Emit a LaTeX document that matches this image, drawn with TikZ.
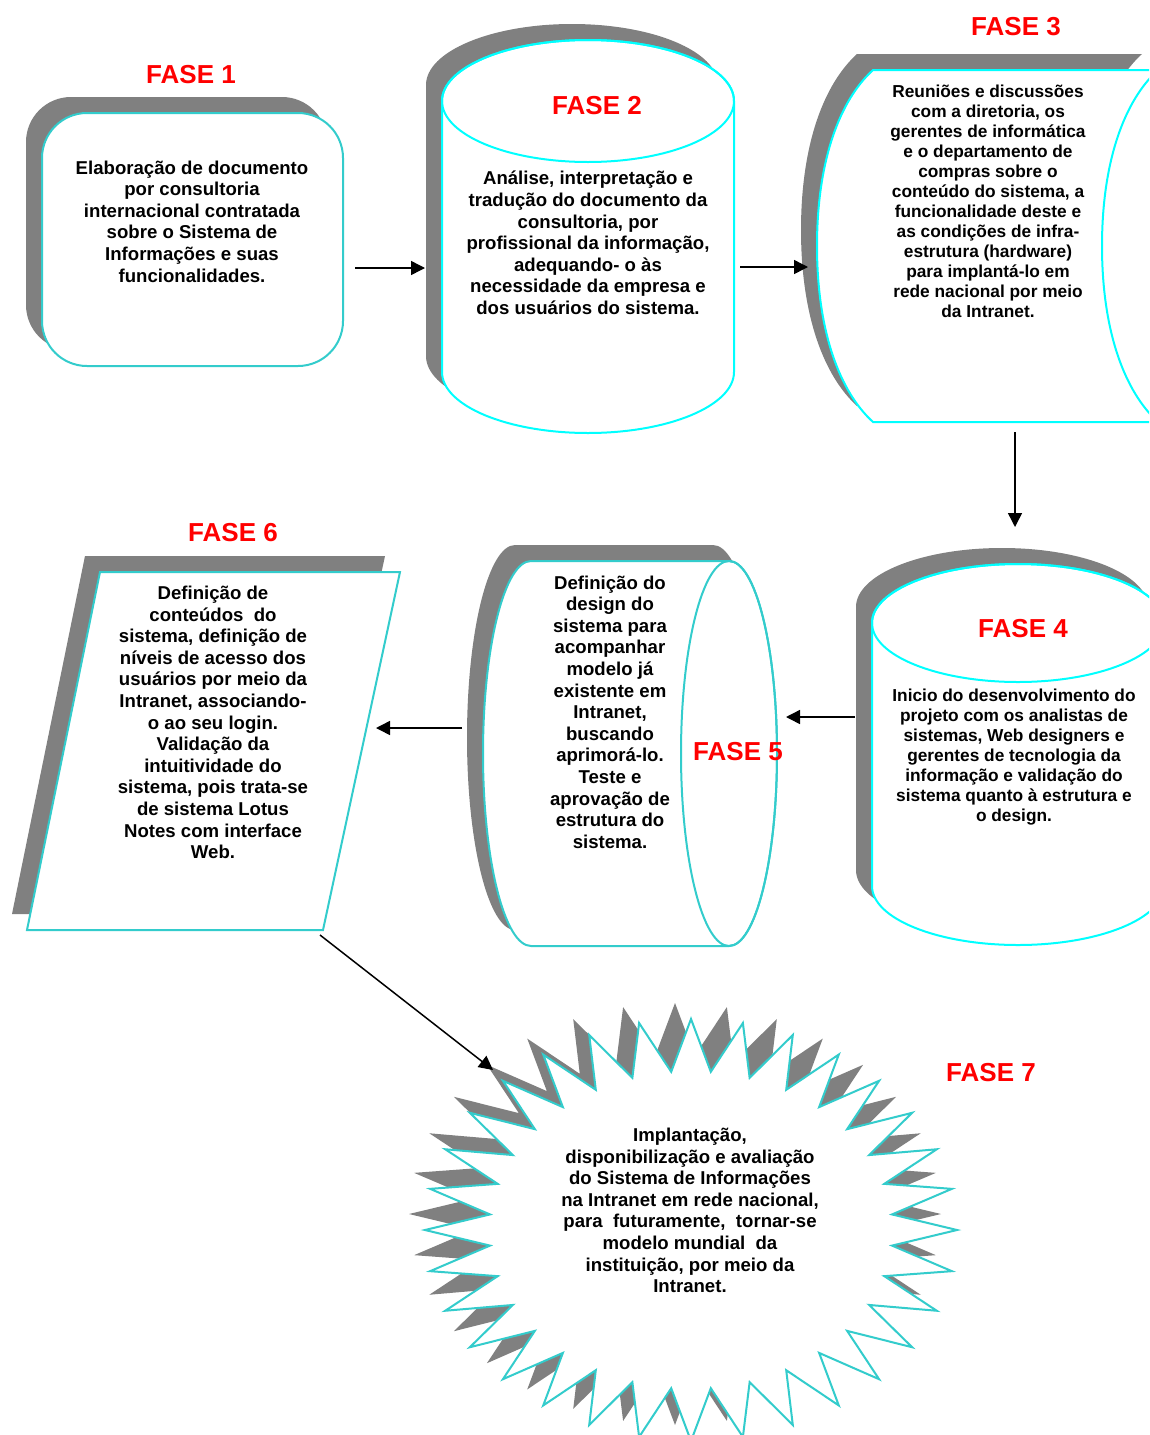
\documentclass[tikz,border=0pt]{standalone}
\usepackage{fontspec}
\setmainfont{Liberation Sans}
\usetikzlibrary{arrows.meta}
\definecolor{shadowgray}{HTML}{808080}
\definecolor{teal1}{HTML}{33CCCC}
\definecolor{cyan1}{HTML}{00FFFF}
\definecolor{red1}{HTML}{FF0000}
\begin{document}
\begin{tikzpicture}[x=1pt,y=1pt,
  shd/.style={fill=shadowgray,draw=none},
  fteal/.style={fill=white,draw=teal1,line width=2pt},
  fcyan/.style={fill=white,draw=cyan1,line width=2pt},
  ecyan/.style={draw=cyan1,line width=2pt},
  eteal/.style={draw=teal1,line width=2pt},
  lbl/.style={text=red1,font=\bfseries\fontsize{26}{30}\selectfont,inner sep=0pt},
  txt/.style={align=center,font=\bfseries\fontsize{18.6}{21.6}\selectfont,inner sep=0pt},
  txts/.style={align=center,font=\bfseries\fontsize{17.3}{20}\selectfont,inner sep=0pt},
  arr/.style={line width=1.5pt,-{Triangle[length=14pt,width=14pt]}}]
\useasboundingbox (0,0) rectangle (1149,-1435);
\clip (0,0) rectangle (1149,-1435);
\fill[white] (0,0) rectangle (1149,-1435);

% ---------- FASE 1 : rounded rectangle
\fill[shd,rounded corners=45pt] (26,-97) rectangle (327,-350);
\draw[fteal,rounded corners=45pt] (42,-113) rectangle (343,-366);

% ---------- FASE 2 : vertical cylinder
\begin{scope}[shift={(-16,16)}]
\fill[shd] (442,-101) -- (442,-372) arc[start angle=180,end angle=360,x radius=146,y radius=61]
  -- (734,-101) arc[start angle=0,end angle=180,x radius=146,y radius=61] -- cycle;
\end{scope}
\draw[fcyan] (442,-101) -- (442,-372) arc[start angle=180,end angle=360,x radius=146,y radius=61]
  -- (734,-101) arc[start angle=0,end angle=180,x radius=146,y radius=61] -- cycle;
\draw[ecyan] (588,-101) ellipse[x radius=146,y radius=61];

% ---------- FASE 3 : stored data shape
\begin{scope}[shift={(-16,16)}]
\fill[shd] (873,-70) -- (1158,-70) .. controls (1125,-100) and (1102,-160) .. (1102,-246)
  .. controls (1102,-332) and (1125,-392) .. (1158,-422) -- (873,-422)
  .. controls (840,-392) and (817,-332) .. (817,-246)
  .. controls (817,-160) and (840,-100) .. (873,-70) -- cycle;
\end{scope}
\draw[fcyan] (873,-70) -- (1158,-70) .. controls (1125,-100) and (1102,-160) .. (1102,-246)
  .. controls (1102,-332) and (1125,-392) .. (1158,-422) -- (873,-422)
  .. controls (840,-392) and (817,-332) .. (817,-246)
  .. controls (817,-160) and (840,-100) .. (873,-70) -- cycle;

% ---------- FASE 4 : vertical cylinder
\begin{scope}[shift={(-16,16)}]
\fill[shd] (872,-623) -- (872,-886) arc[start angle=180,end angle=360,x radius=146,y radius=59]
  -- (1164,-623) arc[start angle=0,end angle=180,x radius=146,y radius=59] -- cycle;
\end{scope}
\draw[fcyan] (872,-623) -- (872,-886) arc[start angle=180,end angle=360,x radius=146,y radius=59]
  -- (1164,-623) arc[start angle=0,end angle=180,x radius=146,y radius=59] -- cycle;
\draw[ecyan] (1018,-623) ellipse[x radius=146,y radius=59];

% ---------- FASE 5 : horizontal cylinder
\begin{scope}[shift={(-16,16)}]
\fill[shd] (531,-561) -- (729,-561) arc[start angle=90,end angle=-90,x radius=48,y radius=192.5]
  -- (531,-946) arc[start angle=270,end angle=90,x radius=48,y radius=192.5] -- cycle;
\end{scope}
\draw[fteal] (531,-561) -- (729,-561) arc[start angle=90,end angle=-90,x radius=48,y radius=192.5]
  -- (531,-946) arc[start angle=270,end angle=90,x radius=48,y radius=192.5] -- cycle;
\draw[eteal] (729,-753.5) ellipse[x radius=48,y radius=192.5];

% ---------- FASE 6 : parallelogram
\fill[shd] (85,-556) -- (385,-556) -- (308,-914) -- (12,-914) -- cycle;
\draw[fteal] (100,-572) -- (400,-572) -- (323,-930) -- (27,-930) -- cycle;

% ---------- FASE 7 : 32-point star
\begin{scope}[shift={(-16,16)}]
\fill[shd] (957,-1230) \foreach \k in {0,...,31} {
   -- ({691+202*cos(\k*11.25+5.625)},{-1230+159*sin(\k*11.25+5.625)})
   -- ({691+266*cos((\k+1)*11.25)},{-1230+211*sin((\k+1)*11.25)}) } -- cycle;
\end{scope}
\draw[fteal] (957,-1230) \foreach \k in {0,...,31} {
   -- ({691+202*cos(\k*11.25+5.625)},{-1230+159*sin(\k*11.25+5.625)})
   -- ({691+266*cos((\k+1)*11.25)},{-1230+211*sin((\k+1)*11.25)}) } -- cycle;

% ---------- labels
\node[lbl] (l1) at (191,-75) {FASE 1};
\node[lbl] (l2) at (597,-106) {FASE 2};
\node[lbl] (l3) at (1016,-27) {FASE 3};
\node[lbl] (l4) at (1023,-629) {FASE 4};
\node[lbl] (l5) at (738,-752) {FASE 5};
\node[lbl] (l6) at (233,-533) {FASE 6};
\node[lbl] (l7) at (991,-1073) {FASE 7};

% ---------- texts
\node[txt] (t1) at (192,-221.5) {Elaboração de documento\\por consultoria\\internacional contratada\\sobre o Sistema de\\Informações e suas\\funcionalidades.};
\node[txt] (t2) at (588,-243) {Análise, interpretação e\\tradução do documento da\\consultoria, por\\profissional da informação,\\adequando- o às\\necessidade da empresa e\\dos usuários do sistema.};
\node[txts] (t3) at (988,-201) {Reuniões e discussões\\com a diretoria, os\\gerentes de informática\\e o departamento de\\compras sobre o\\conteúdo do sistema, a\\funcionalidade deste e\\as condições de infra-\\estrutura (hardware)\\para implantá-lo em\\rede nacional por meio\\da Intranet.};
\node[txts] (t4) at (1014,-757) {Inicio do desenvolvimento do\\projeto com os analistas de\\sistemas, Web designers e\\gerentes de tecnologia da\\informação e validação do\\sistema quanto à estrutura e\\o design.};
\node[txt] (t5) at (610,-712) {Definição do\\design do\\sistema para\\acompanhar\\modelo já\\existente em\\Intranet,\\buscando\\aprimorá-lo.\\Teste e\\aprovação de\\estrutura do\\sistema.};
\node[txt] (t6) at (213,-722.5) {Definição de\\conteúdos~ do\\sistema, definição de\\níveis de acesso dos\\usuários por meio da\\Intranet, associando-\\o ao seu login.\\Validação da\\intuitividade do\\sistema, pois trata-se\\de sistema Lotus\\Notes com interface\\Web.};
\node[txt] (t7) at (690,-1210.5) {Implantação,\\disponibilização e avaliação\\do Sistema de Informações\\na Intranet em rede nacional,\\para~ futuramente,~ tornar-se\\modelo mundial~ da\\instituição, por meio da\\Intranet.};

% ---------- connectors
\coordinate (a1s) at (355,-268);  \coordinate (a1e) at (425,-268);
\coordinate (a2s) at (740,-267);  \coordinate (a2e) at (808,-267);
\coordinate (a3s) at (1015,-432); \coordinate (a3e) at (1015,-527);
\coordinate (a4s) at (855,-717);  \coordinate (a4e) at (786,-717);
\coordinate (a5s) at (462,-728);  \coordinate (a5e) at (376,-728);
\coordinate (a6s) at (320,-935);  \coordinate (a6e) at (493,-1070);
\draw[arr] (a1s) -- (a1e);
\draw[arr] (a2s) -- (a2e);
\draw[arr] (a3s) -- (a3e);
\draw[arr] (a4s) -- (a4e);
\draw[arr] (a5s) -- (a5e);
\draw[arr] (a6s) -- (a6e);
\end{tikzpicture}
\end{document}
